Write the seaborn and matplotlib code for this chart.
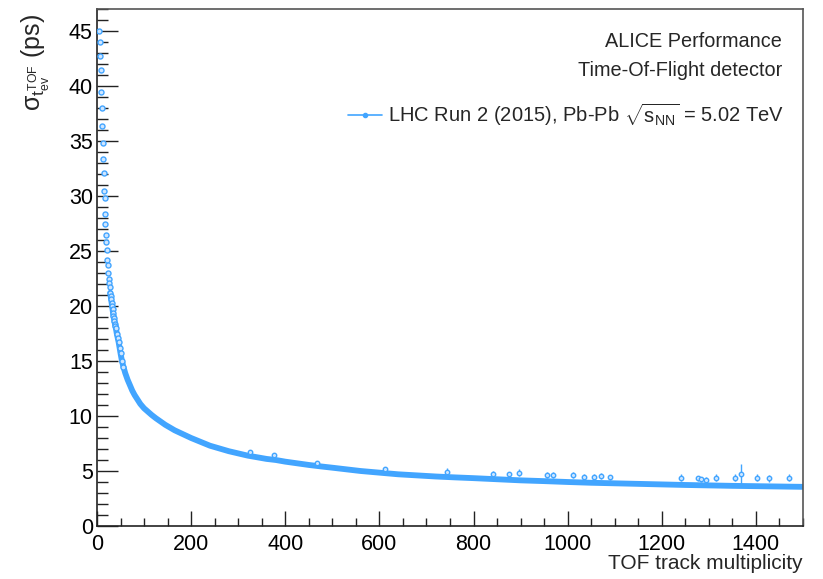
import numpy as np
import pandas as pd
import matplotlib
matplotlib.use("Agg")
import matplotlib.pyplot as plt
from matplotlib.lines import Line2D
from matplotlib.ticker import MultipleLocator
import seaborn as sns

# ---------------- data ----------------
mult = [5, 6, 7, 8, 9, 10, 11, 12, 13, 14, 15, 16, 17, 18, 19, 20, 21, 22, 23, 24,
        25, 26, 27, 28, 29, 30, 31, 32, 33, 34, 35, 36, 37, 38, 39, 40, 42, 44, 46, 48,
        50, 53, 56, 60, 65, 70, 75, 80, 86, 92, 100, 108, 116, 125, 135, 145, 155, 165,
        180, 200, 220, 240, 260, 280, 300, 320, 340, 360, 380, 400, 425, 450, 475, 500,
        530, 560, 600, 640, 680, 720, 760, 800, 850, 900, 950, 1000, 1050, 1100, 1150,
        1200, 1250, 1300, 1350, 1400, 1450, 1500]
sigma = [45.0, 44.0, 42.7, 41.5, 39.5, 38.0, 36.4, 34.8, 33.4, 32.1, 30.5, 29.8, 28.4,
         27.5, 26.5, 25.8, 25.1, 24.2, 23.7, 23.0, 22.5, 22.1, 21.7, 21.2, 20.9, 20.6,
         20.3, 20.0, 19.7, 19.4, 19.1, 18.9, 18.6, 18.4, 18.2, 18.0, 17.5, 17.1, 16.7,
         16.2, 15.7, 15.0, 14.5, 13.9, 13.3, 12.8, 12.3, 11.9, 11.5, 11.1, 10.7, 10.4,
         10.1, 9.8, 9.5, 9.2, 8.95, 8.7, 8.4, 8.0, 7.65, 7.3, 7.05, 6.8, 6.6, 6.4, 6.25,
         6.1, 6.0, 5.85, 5.7, 5.55, 5.42, 5.3, 5.15, 5.0, 4.85, 4.7, 4.6, 4.5, 4.42, 4.35,
         4.25, 4.15, 4.08, 4.0, 3.93, 3.88, 3.83, 3.78, 3.73, 3.69, 3.65, 3.62, 3.59, 3.56]

# isolated fluctuating bins above the band (with error bars)
out_mult = [325, 375, 467, 612, 744, 842, 875, 896, 957, 968, 1011, 1035, 1056, 1070,
            1090, 1240, 1276, 1283, 1293, 1316, 1355, 1368, 1402, 1427, 1471]
out_sigma = [6.75, 6.45, 5.75, 5.2, 4.93, 4.77, 4.7, 4.84, 4.63, 4.63, 4.63, 4.48, 4.48,
             4.54, 4.42, 4.39, 4.33, 4.24, 4.17, 4.39, 4.39, 4.72, 4.39, 4.33, 4.39]
out_err = [0.2, 0.2, 0.2, 0.2, 0.3, 0.25, 0.25, 0.3, 0.25, 0.25, 0.3, 0.25, 0.25, 0.25,
           0.25, 0.3, 0.25, 0.25, 0.25, 0.3, 0.3, 0.9, 0.3, 0.3, 0.3]

legend_label = r"LHC Run 2 (2015), Pb-Pb $\sqrt{\mathrm{s}_{\mathrm{NN}}}$ = 5.02 TeV"
x_label = "TOF track multiplicity"
y_label = r"σ$_{\mathrm{t}^{\mathrm{TOF}}_{\mathrm{ev}}}$ (ps)"
top_texts = ["ALICE Performance", "Time-Of-Flight detector"]

# ---------------- style ----------------
sns.set_theme(style="white")
plt.rcParams["font.family"] = ["Liberation Sans", "DejaVu Sans"]
plt.rcParams["mathtext.fontset"] = "custom"
plt.rcParams["mathtext.rm"] = "Liberation Sans"
plt.rcParams["mathtext.it"] = "Liberation Sans:italic"
plt.rcParams["mathtext.bf"] = "Liberation Sans:bold"
plt.rcParams["mathtext.sf"] = "Liberation Sans"

blue = "#42a5ff"
light = "#cfe6ff"

df = pd.DataFrame({"mult": mult, "sigma": sigma})
dfo = pd.DataFrame({"mult": out_mult, "sigma": out_sigma, "err": out_err})

fig = plt.figure(figsize=(8.23, 5.79), dpi=100)
ax = fig.add_axes([97 / 823, 53 / 579, 706 / 823, 517 / 579])

band = df[df["mult"] >= 28]
sns.lineplot(data=band, x="mult", y="sigma", ax=ax, color=blue, linewidth=4.2,
             solid_capstyle="round", legend=False)
sns.scatterplot(data=df[df["mult"] < 60], x="mult", y="sigma", ax=ax, marker="o",
                s=13, facecolor=light, edgecolor=blue, linewidth=1.0, legend=False,
                zorder=3)
ax.errorbar(dfo["mult"], dfo["sigma"], yerr=dfo["err"], fmt="o", ms=3.2,
            mfc=light, mec=blue, ecolor=blue, elinewidth=1.0, capsize=0, zorder=3)

ax.set_xlim(0, 1500)
ax.set_ylim(0, 47)
ax.xaxis.set_major_locator(MultipleLocator(200))
ax.xaxis.set_minor_locator(MultipleLocator(50))
ax.yaxis.set_major_locator(MultipleLocator(5))
ax.yaxis.set_minor_locator(MultipleLocator(1))

ax.tick_params(axis="both", which="both", direction="in", colors="#222222",
               labelcolor="black", labelsize=15.5)
ax.tick_params(axis="x", which="major", length=11, width=1.0, pad=6)
ax.tick_params(axis="x", which="minor", length=5.5, width=1.0)
ax.tick_params(axis="y", which="major", length=15, width=1.0, pad=3)
ax.tick_params(axis="y", which="minor", length=8, width=1.0)
ax.tick_params(bottom=True, left=True, top=False, right=False, which="both")

for side in ["left", "bottom", "top", "right"]:
    ax.spines[side].set_visible(True)
    ax.spines[side].set_linewidth(1.2)
    ax.spines[side].set_color("#222222")
ax.spines["top"].set_color("#555555")
ax.spines["right"].set_color("#555555")

ax.set_xlabel(x_label, fontsize=15, loc="right")
ax.xaxis.set_label_coords(1.0, -0.054)
ax.xaxis.label.set_va("top")
ax.set_ylabel(y_label, fontsize=18, loc="top")
ax.yaxis.set_label_coords(-0.064, 0.99)

ax.text(0.9703, 0.938, top_texts[0], transform=ax.transAxes, ha="right", va="center",
        fontsize=14.3)
ax.text(0.9703, 0.882, top_texts[1], transform=ax.transAxes, ha="right", va="center",
        fontsize=14.3)

handle = Line2D([], [], color=blue, linewidth=1.2, marker="o", ms=3, mfc=blue, mec=blue)
ax.legend([handle], [legend_label], loc="center right", bbox_to_anchor=(0.985, 0.795),
          frameon=False, fontsize=14.5, handlelength=1.7, handletextpad=0.3,
          borderaxespad=0.0)

fig.savefig("out.png", dpi=100)
